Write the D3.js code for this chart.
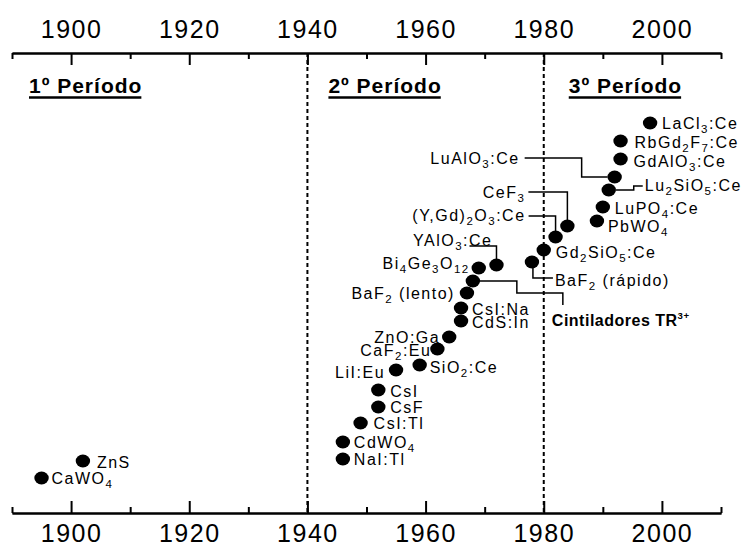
<!DOCTYPE html>
<html>
<head>
<meta charset="utf-8">
<script src="https://cdnjs.cloudflare.com/ajax/libs/d3/7.8.5/d3.min.js"></script>
<style>
body { margin: 0; background: #fff; }
text { font-family: "Liberation Sans", Arial, sans-serif; fill: #000; }
</style>
</head>
<body>
<svg id="mainSvg" width="743" height="546"></svg>
<script>
// scintillators: name, year of discovery, vertical level on the timeline
var names = ["CaWO_4", "ZnS", "NaI:Tl", "CdWO_4", "CsI:Tl", "CsF", "CsI", "LiI:Eu", "SiO_2:Ce",
	"CaF_2:Eu", "ZnO:Ga", "CdS:In", "CsI:Na", "BaF_2 (lento)", "Cintiladores TR^{3+}", "Bi_4Ge_3O_{12}",
	"YAlO_3:Ce", "BaF_2 (rápido)", "Gd_2SiO_5:Ce", "(Y,Gd)_2O_3:Ce", "CeF_3", "PbWO_4", "LuPO_4:Ce",
	"Lu_2SiO_5:Ce", "LuAlO_3:Ce", "GdAlO_3:Ce", "RbGd_2F_7:Ce", "LaCl_3:Ce"];
var years = [1895, 1902, 1946, 1946, 1949, 1952, 1952, 1955, 1959,
	1962, 1964, 1966, 1966, 1967, 1968, 1969,
	1972, 1978, 1980, 1982, 1984, 1989, 1990,
	1991, 1992, 1993, 1993, 1998];
var levels = [8.75, 13, 13.5, 17.75, 22.5, 26.5, 30.75, 35.75, 37,
	41, 44, 48, 51.25, 55, 58, 61.25,
	62, 62.75, 65.75, 69, 71.75, 73, 76.5,
	80.75, 84, 88.5, 93, 97.5];

var majorYears = [1900, 1920, 1940, 1960, 1980, 2000];
var minorYears = [1890, 1910, 1930, 1950, 1970, 1990, 2010];
var periodNames = ["1º Período", "2º Período", "3º Período"];
var periodStarts = [1890, 1940, 1980];
var dividerYears = [1940, 1980];

// label placement relative to the dot (pixels): anchor, dx, dy, optional leader line
var labelPlace = {
	"CaWO_4": ["start", 10, 0],
	"ZnS": ["start", 14, 1],
	"NaI:Tl": ["start", 11, 0],
	"CdWO_4": ["start", 11, 0],
	"CsI:Tl": ["start", 13, 0],
	"CsF": ["start", 12, 0],
	"CsI": ["start", 12, 1],
	"LiI:Eu": ["end", -11, 2],
	"SiO_2:Ce": ["start", 10, 2],
	"CaF_2:Eu": ["end", -6, 1],
	"ZnO:Ga": ["end", -9, 0],
	"CdS:In": ["start", 11, 1],
	"CsI:Na": ["start", 11, 1],
	"BaF_2 (lento)": ["end", -12, 0],
	"Cintiladores TR^{3+}": ["start", 79, 39, [[6,0],[44,0],[44,12],[90,12],[90,24]]],
	"Bi_4Ge_3O_{12}": ["end", -9, -5],
	"YAlO_3:Ce": ["end", -4, -25, [[-27,-19],[0,-19],[0,-6]]],
	"BaF_2 (rápido)": ["start", 23, 18, [[1,6],[1,16],[21,16]]],
	"Gd_2SiO_5:Ce": ["start", 12, 2],
	"(Y,Gd)_2O_3:Ce": ["end", -30, -22, [[-27,-21],[0,-21],[0,-6]]],
	"CeF_3": ["end", -42, -34, [[-39,-34],[0,-34],[0,-6]]],
	"PbWO_4": ["start", 11, 5],
	"LuPO_4:Ce": ["start", 12, 1],
	"Lu_2SiO_5:Ce": ["start", 36, -5, [[7,0],[25,0],[25,-4],[34,-4]]],
	"LuAlO_3:Ce": ["end", -95, -19, [[-90,-19],[-33,-19],[-33,0],[-7,0]]],
	"GdAlO_3:Ce": ["start", 13, 2],
	"RbGd_2F_7:Ce": ["start", 14, 1],
	"LaCl_3:Ce": ["start", 12, 0]
};
var periodDx = [17, 21, 25];

var svg = d3.select("#mainSvg");

var x = d3.scaleLinear().domain([1890, 2010]).range([12, 721]);
var y = d3.scaleLinear().domain([0, 100]).range([513, 113]);
var topY = 53, bottomY = 513;

var points = names.map(function(n, i) {
	return {name: n, year: years[i], level: levels[i]};
});

function styleAxis(g) {
	g.select(".domain").attr("stroke", "#000").attr("stroke-width", 2);
	g.selectAll(".tick line").attr("stroke", "#000").attr("stroke-width", 2);
	g.selectAll(".tick text")
		.attr("font-family", "Liberation Sans, Arial, sans-serif")
		.attr("font-size", 25)
		.style("letter-spacing", "1.5px");
}

// top axis
svg.append("g")
	.attr("transform", "translate(0," + topY + ")")
	.call(d3.axisTop(x).tickValues(minorYears).tickSizeInner(-6).tickSizeOuter(0).tickFormat(""))
	.call(styleAxis);
svg.append("g")
	.attr("transform", "translate(0," + topY + ")")
	.call(d3.axisTop(x).tickValues(majorYears).tickSizeInner(-12).tickSizeOuter(0).tickPadding(15).tickFormat(d3.format("d")))
	.call(styleAxis);

// bottom axis
svg.append("g")
	.attr("transform", "translate(0," + bottomY + ")")
	.call(d3.axisBottom(x).tickValues(minorYears).tickSizeInner(-6).tickSizeOuter(0).tickFormat(""))
	.call(styleAxis);
svg.append("g")
	.attr("transform", "translate(0," + bottomY + ")")
	.call(d3.axisBottom(x).tickValues(majorYears).tickSizeInner(-12).tickSizeOuter(0).tickPadding(11).tickFormat(d3.format("d")))
	.call(styleAxis);

// period dividers
svg.selectAll(".divider")
	.data(dividerYears)
	.enter()
	.append("line")
	.attr("class", "divider")
	.attr("x1", function(d) { return x(d); })
	.attr("x2", function(d) { return x(d); })
	.attr("y1", topY)
	.attr("y2", bottomY)
	.attr("stroke", "#000")
	.attr("stroke-width", 2)
	.attr("stroke-dasharray", "4,3");

// period titles, underlined
svg.selectAll(".period")
	.data(periodNames)
	.enter()
	.append("text")
	.attr("class", "period")
	.attr("x", function(d, i) { return x(periodStarts[i]) + periodDx[i]; })
	.attr("y", 93)
	.attr("font-size", 21)
	.attr("font-weight", "bold")
	.style("letter-spacing", "1px")
	.text(function(d) { return d; })
	.each(function(d, i) {
		var len = this.getComputedTextLength() - 1;
		var x0 = x(periodStarts[i]) + periodDx[i];
		svg.append("line")
			.attr("x1", x0).attr("x2", x0 + len)
			.attr("y1", 97.5).attr("y2", 97.5)
			.attr("stroke", "#000")
			.attr("stroke-width", 2.5);
	});

// leader lines
var leader = d3.line();
points.forEach(function(p) {
	var pl = labelPlace[p.name];
	if (!pl[3]) return;
	var cx = x(p.year), cy = y(p.level);
	svg.append("path")
		.attr("d", leader(pl[3].map(function(q) { return [cx + q[0], cy + q[1]]; })))
		.attr("fill", "none")
		.attr("stroke", "#000")
		.attr("stroke-width", 1.5);
});

// dots
svg.selectAll(".dot")
	.data(points)
	.enter()
	.append("ellipse")
	.attr("class", "dot")
	.attr("cx", function(d) { return x(d.year); })
	.attr("cy", function(d) { return y(d.level); })
	.attr("rx", 7.2)
	.attr("ry", 6.4)
	.attr("fill", "#000");

// text with _sub and ^sup parts
function addFormula(sel, str, size) {
	var parts = str.match(/_\{[^}]+\}|_.|\^\{[^}]+\}|\^.|[^_^]+/g);
	var shift = 0;
	parts.forEach(function(p) {
		var t = sel.append("tspan");
		var s = 0, txt = p;
		if (p[0] === "_") {
			s = 4; txt = p.slice(1).replace(/[{}]/g, "");
			t.attr("font-size", size * 0.72);
		} else if (p[0] === "^") {
			s = -7; txt = p.slice(1).replace(/[{}]/g, "");
			t.attr("font-size", size * 0.6);
		}
		t.attr("dy", s - shift).text(txt);
		shift = s;
	});
}

points.forEach(function(p) {
	var pl = labelPlace[p.name];
	var bold = p.name.indexOf("Cintiladores") === 0;
	var t = svg.append("text")
		.attr("x", x(p.year) + pl[1])
		.attr("y", y(p.level) + pl[2] + 6)
		.attr("text-anchor", pl[0])
		.attr("font-size", 16)
		.attr("font-weight", bold ? "bold" : "normal")
		.style("letter-spacing", bold ? "0.5px" : "1.5px");
	addFormula(t, p.name, 16);
});
</script>
</body>
</html>
